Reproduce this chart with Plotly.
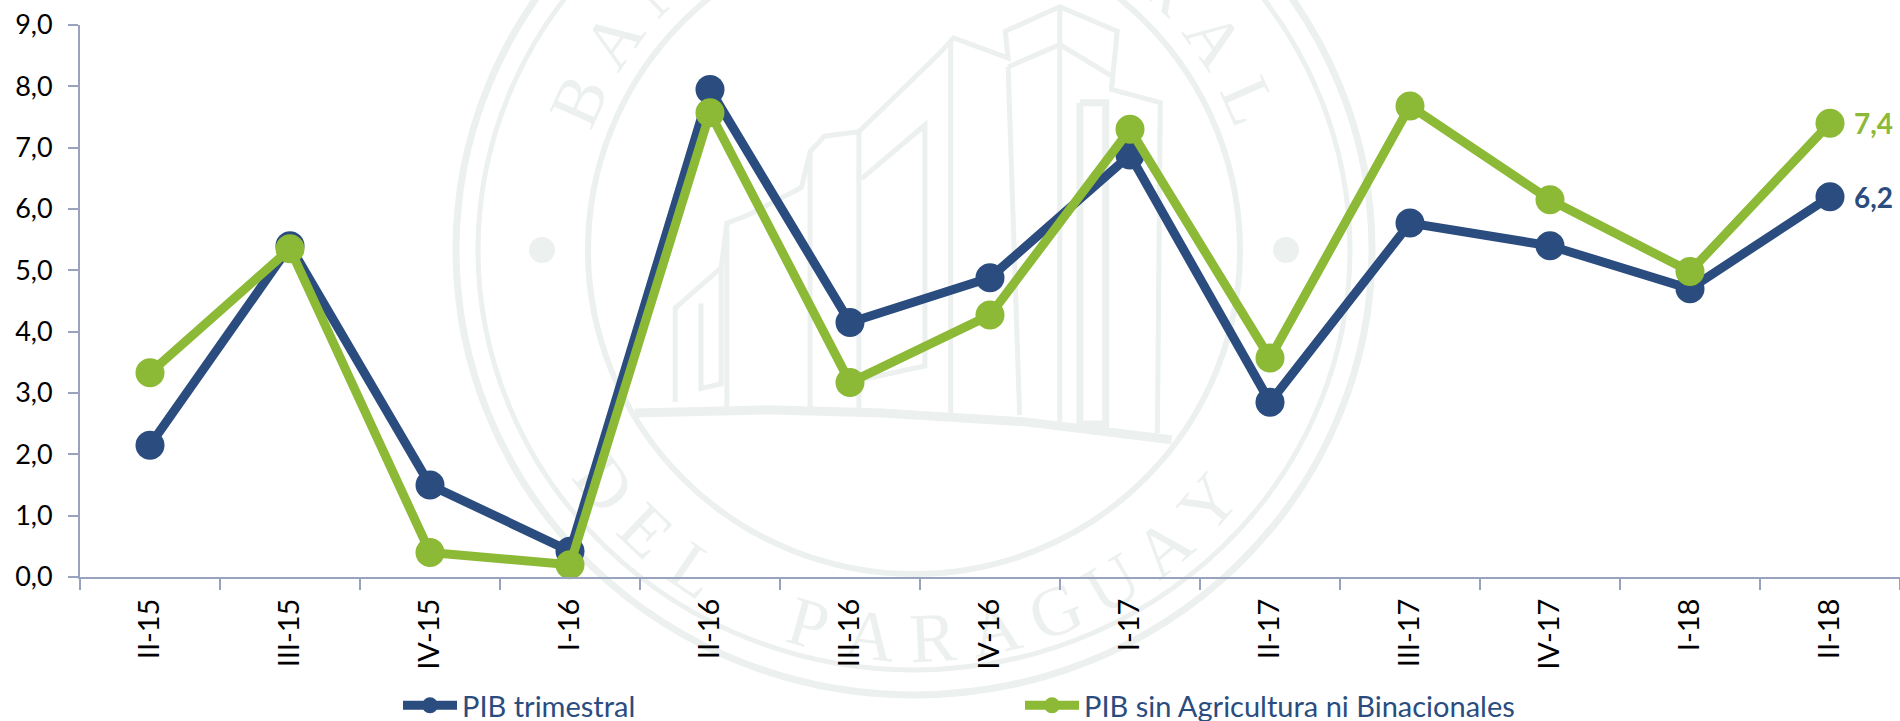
import math
import plotly.graph_objects as go

categories = ["II-15","III-15","IV-15","I-16","II-16","III-16","IV-16","I-17","II-17","III-17","IV-17","I-18","II-18"]
pib_trimestral = [2.15,5.4,1.5,0.42,7.95,4.15,4.88,6.88,2.85,5.77,5.4,4.7,6.2]
pib_sin_agro = [3.33,5.35,0.4,0.2,7.57,3.17,4.27,7.3,3.57,7.68,6.15,4.98,7.4]
y_ticks = [0,1,2,3,4,5,6,7,8,9]
BLUE = "#2B4C7E"
GREEN = "#8CB936"
AXIS = "#9AA3BD"
WM = "#ECF0EF"
FONT = "Lato"

W, H = 1900, 721
L, R, T, B = 80, 0, 25, 144
PW, PH = W - L - R, H - T - B
def px(x): return (x - L) / PW
def py(y): return 1 - (y - T) / PH

shapes = []
def ring(cx, cy, rx, ry, w):
    shapes.append(dict(type="circle", xref="paper", yref="paper", layer="below",
                       x0=px(cx-rx), x1=px(cx+rx), y0=py(cy+ry), y1=py(cy-ry),
                       line=dict(color=WM, width=w)))
def zx(x): return x / 1.742 + 480
def zy(y): return y / 2.24
def poly(points, w=5):
    d = "M " + " L ".join(f"{px(zx(a)):.5f},{py(zy(b)):.5f}" for a, b in points)
    shapes.append(dict(type="path", xref="paper", yref="paper", layer="below", path=d,
                       line=dict(color=WM, width=w)))

CX, CY = 914, 250
ring(CX, CY, 458, 445, 7)
ring(CX, CY, 436, 420, 5)
ring(CX, CY, 326, 324, 6)
for dx in (-372, 372):
    shapes.append(dict(type="circle", xref="paper", yref="paper", layer="below", fillcolor=WM,
                       x0=px(CX+dx-13), x1=px(CX+dx+13), y0=py(CY+13), y1=py(CY-13),
                       line=dict(width=0)))
poly([(270,925),(500,918),(700,925),(950,945),(1205,985)], 9)
poly([(340,900),(340,690),(420,600),(430,500),(470,480),(560,420),(575,340),(600,305),(660,295),(800,120),(825,85),(920,130),(915,70),(1010,15),(1110,70),(1100,200),(1185,230),(1180,970)])
poly([(1010,15),(1010,950)]); poly([(920,150),(940,930)]); poly([(820,90),(820,925)])
poly([(660,295),(660,920)]); poly([(575,340),(575,915)]); poly([(430,500),(430,915)])
poly([(665,400),(775,280),(775,820),(665,850)]); poly([(920,150),(1010,100),(1100,170)])
poly([(385,680),(385,870),(420,860),(420,600)])
poly([(1045,230),(1045,950),(1090,950),(1090,230),(1045,230)], 7)

def seal(letters, start, step, bottom):
    for i, ch in enumerate(letters):
        if ch == " ":
            continue
        a = math.radians(start + i * step)
        if bottom:
            x, y = CX + 380 * math.sin(a), CY + 380 * math.cos(a)
            rot = -(start + i * step)
        else:
            x, y = CX + 375 * math.sin(a), CY - 375 * math.cos(a)
            rot = start + i * step
        shapes.append(dict(type="rect", xref="paper", yref="paper", layer="below",
                           x0=px(x-30), x1=px(x+30), y0=py(y+30), y1=py(y-30),
                           line=dict(width=0), fillcolor="rgba(0,0,0,0)",
                           label=dict(text=ch, textposition="middle center", textangle=rot,
                                      font=dict(family="Liberation Serif", size=70, color=WM))))
seal("BANCO CENTRAL", -66, 11, False)
seal("DEL PARAGUAY", -53, 9.3, True)

fig = go.Figure()
annotations = []
for name, vals, col in [("PIB trimestral", pib_trimestral, BLUE),
                        ("PIB sin Agricultura ni Binacionales", pib_sin_agro, GREEN)]:
    fig.add_trace(go.Scatter(x=categories, y=vals, name=name, mode="lines+markers",
                             line=dict(color=col, width=9),
                             marker=dict(color=col, size=29), cliponaxis=False))
    annotations.append(dict(x=categories[-1], y=vals[-1], xref="x", yref="y",
                            text=f"{vals[-1]:.1f}".replace(".", ","), showarrow=False,
                            xanchor="left", yanchor="middle", xshift=22,
                            font=dict(family=FONT, size=28, color=col, weight="bold")))

fig.update_layout(
    width=W, height=H, autosize=False,
    margin=dict(l=L, r=R, t=T, b=B, autoexpand=False),
    paper_bgcolor="white", plot_bgcolor="rgba(0,0,0,0)",
    separators=",.",
    font=dict(family=FONT, color="black"),
    shapes=shapes, annotations=annotations,
    legend=dict(orientation="h", x=px(398), y=py(680), xanchor="left", yanchor="top",
                entrywidth=553, entrywidthmode="pixels", itemwidth=54,
                font=dict(family=FONT, size=29, color=BLUE), bgcolor="rgba(0,0,0,0)",
                traceorder="normal"),
    xaxis=dict(type="category", categoryorder="array", categoryarray=categories,
               range=[-0.5, 12.5], tickson="boundaries", ticks="outside", ticklen=11, tickwidth=2,
               tickcolor=AXIS, showline=True, linecolor=AXIS, linewidth=2, showgrid=False,
               tickangle=-90, tickfont=dict(family=FONT, size=29, color="black"),
               ticklabelstandoff=8, zeroline=False),
    yaxis=dict(range=[0, 9], tickvals=y_ticks, tickformat=".1f", ticks="outside", ticklen=10, tickwidth=2,
               tickcolor=AXIS, showline=True, linecolor=AXIS, linewidth=2, showgrid=False,
               tickfont=dict(family=FONT, size=27, color="black"), ticklabelstandoff=10, zeroline=False),
)
fig.write_html("out.html", post_script="document.body.style.margin='0';", config={"displayModeBar": False})
